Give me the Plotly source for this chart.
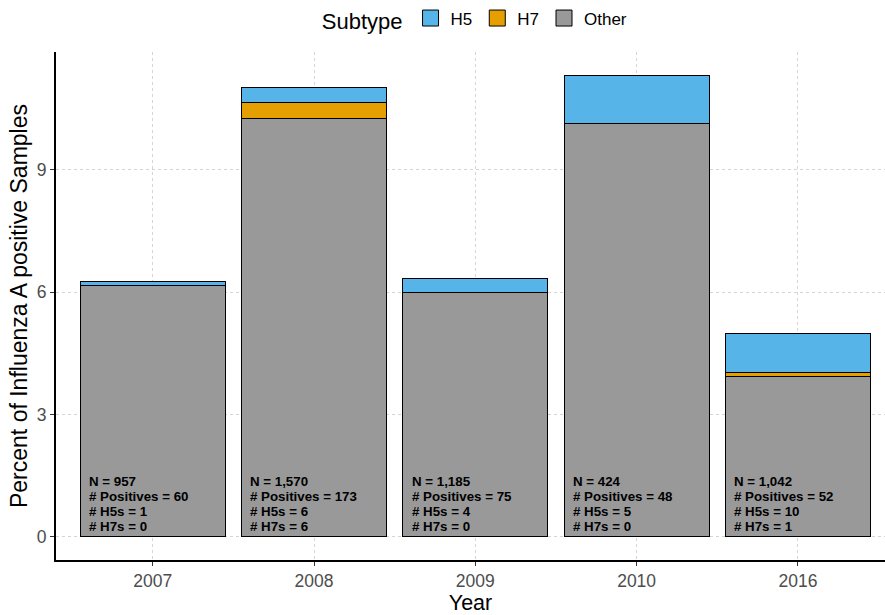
import plotly.graph_objects as go

# Surveillance counts per year
years = ["2007", "2008", "2009", "2010", "2016"]
n_samples = [957, 1570, 1185, 424, 1042]
n_positives = [60, 173, 75, 48, 52]
n_h5 = [1, 6, 4, 5, 10]
n_h7 = [0, 6, 0, 0, 1]

subtype_colors = {"H5": "#56B4E9", "H7": "#E69F00", "Other": "#999999"}

n_other = [p - a - b for p, a, b in zip(n_positives, n_h5, n_h7)]
pct = lambda counts: [c / n * 100 for c, n in zip(counts, n_samples)]

font = "Liberation Sans, Arial, sans-serif"
fig = go.Figure()

# Stacked from bottom: Other, H7, H5
for name, counts in [("Other", n_other), ("H7", n_h7), ("H5", n_h5)]:
    fig.add_trace(go.Bar(
        x=list(range(len(years))), y=pct(counts), name=name, width=0.9,
        marker=dict(color=subtype_colors[name], line=dict(color="black", width=1)),
        hoverinfo="skip", showlegend=False,
    ))

# Legend keys as square swatches
for name in ["H5", "H7", "Other"]:
    fig.add_trace(go.Scatter(
        x=[None], y=[None], mode="markers", name=name,
        marker=dict(symbol="square", size=18, color=subtype_colors[name],
                    line=dict(color="black", width=1)),
    ))

# Per-year sample summary, one line per annotation
for i in range(len(years)):
    lines = [f"N = {n_samples[i]:,}", f"# Positives = {n_positives[i]}",
             f"# H5s = {n_h5[i]}", f"# H7s = {n_h7[i]}"]
    for k, line in enumerate(lines):
        fig.add_annotation(
            x=i - 0.45, y=0, xref="x", yref="y", text=line, showarrow=False,
            xanchor="left", yanchor="middle", align="left",
            xshift=7, yshift=55.3 - 15 * k,
            font=dict(family=font, size=13.3, color="black", weight="bold"),
        )

fig.update_layout(
    width=885, height=615, barmode="stack",
    plot_bgcolor="white", paper_bgcolor="white",
    margin=dict(l=56, r=0, t=50, b=55),
    font=dict(family=font, color="black"),
    legend=dict(
        orientation="h", x=0.507, xanchor="center", y=1.063, yanchor="middle",
        traceorder="normal",
        title=dict(text="Subtype", font=dict(size=22)),
        font=dict(size=17), itemwidth=30,
    ),
    xaxis=dict(
        range=[-0.6, 4.54], tickmode="array",
        tickvals=list(range(len(years))), ticktext=years,
        showline=True, linecolor="black", linewidth=2,
        showgrid=True, gridcolor="#d4d4d4", griddash="dot", gridwidth=1,
        ticks="outside", ticklen=4, tickcolor="#333333",
        tickfont=dict(size=17.5, color="#4d4d4d"),
        title=dict(text="Year", font=dict(size=21.5), standoff=4),
        zeroline=False,
    ),
    yaxis=dict(
        range=[-0.566, 11.886], tickvals=[0, 3, 6, 9],
        showline=True, linecolor="black", linewidth=2,
        showgrid=True, gridcolor="#d4d4d4", griddash="dot", gridwidth=1,
        ticks="outside", ticklen=4, tickcolor="#333333",
        tickfont=dict(size=17.5, color="#4d4d4d"),
        title=dict(text="Percent of Influenza A positive Samples", font=dict(size=23), standoff=3),
        zeroline=False,
    ),
)

fig.write_html("out.html")
